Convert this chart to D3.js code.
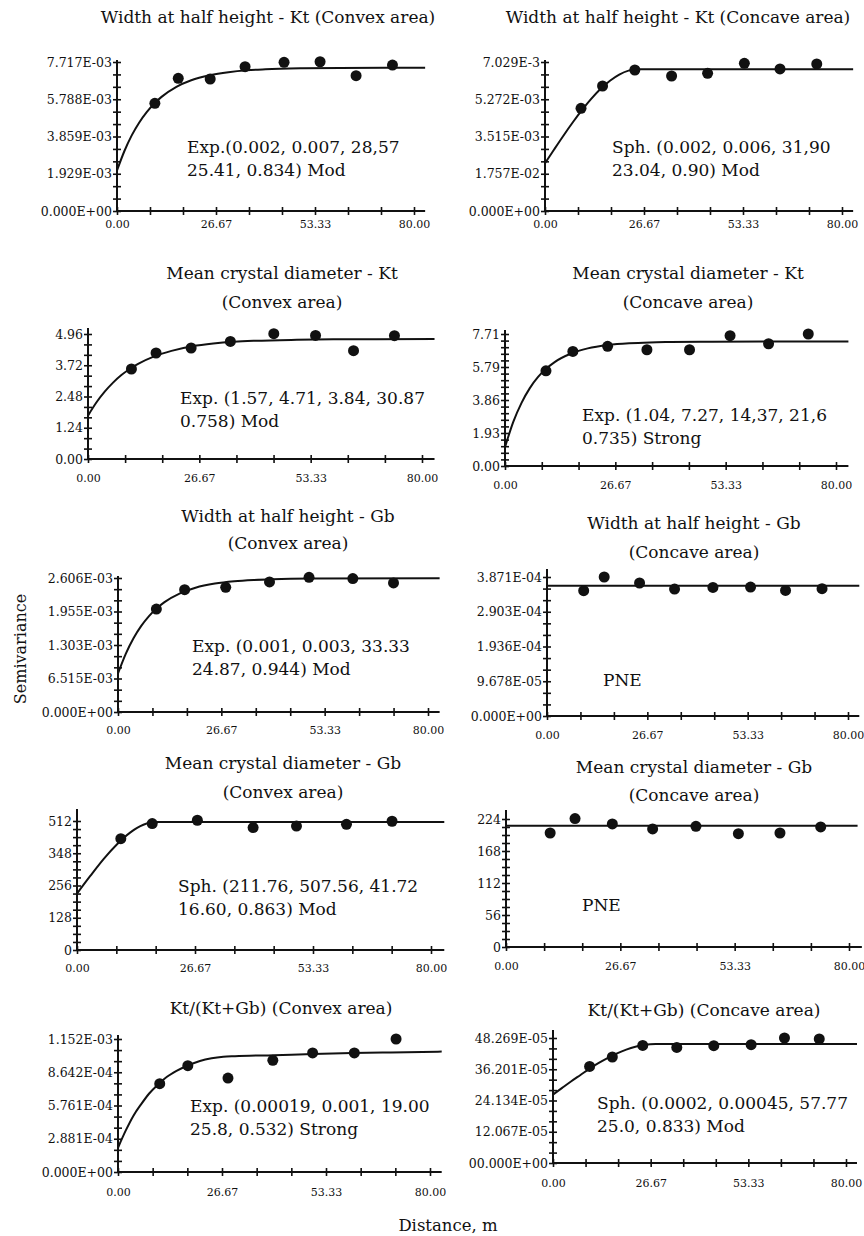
<!DOCTYPE html>
<html>
<head>
<meta charset="utf-8">
<script src="https://cdn.jsdelivr.net/npm/d3@7"></script>
<style>
  body { margin: 0; background: #fff; }
</style>
</head>
<body>
<div id="chart"></div>
<script>
// shared x axis labels (lag distance, m)
const xTickValues = [0, 26.67, 53.33, 80];
const xTickLabels = ["0.00", "26.67", "53.33", "80.00"];

// 1. Width at half height - Kt (Convex)
const p1Lag = [10.2, 16.5, 25.1, 34.5, 45.0, 54.7, 64.4, 74.2];
const p1Gamma = [0.005578, 0.006873, 0.006837, 0.007474, 0.00770, 0.00773, 0.00701, 0.00756];
const p1FitLag = [0, 2, 4, 6, 8, 10, 12, 16, 20, 25, 30, 35, 40, 50, 60, 83];
const p1Fit = [0.00210, 0.003108, 0.00393, 0.004587, 0.00512, 0.005558, 0.00591, 0.00643, 0.00677, 0.00703, 0.00719, 0.00729, 0.00734, 0.00739, 0.00741, 0.00742];
const p1YLabels = ["0.000E+00", "1.929E-03", "3.859E-03", "5.788E-03", "7.717E-03"];

// 2. Width at half height - Kt (Concave)
const p2Lag = [9.7, 15.5, 24.2, 34.1, 43.8, 53.7, 63.3, 73.2];
const p2Gamma = [0.004845, 0.005897, 0.006652, 0.006369, 0.006496, 0.006968, 0.00670, 0.006935];
const p2FitLag = [0, 2.5, 5, 7.5, 10, 12.5, 15, 17.5, 20, 22.5, 25, 83];
const p2Fit = [0.00225, 0.002913, 0.003563, 0.004186, 0.004769, 0.005299, 0.005763, 0.006146, 0.006437, 0.006621, 0.006685, 0.006685];
const p2YLabels = ["0.000E+00", "1.757E-02", "3.515E-03", "5.272E-03", "7.029E-3"];

// 3. Mean crystal diameter - Kt (Convex)
const p3Lag = [10.4, 16.3, 24.7, 34.1, 44.5, 54.5, 63.6, 73.4];
const p3Gamma = [3.571, 4.206, 4.404, 4.666, 4.972, 4.905, 4.297, 4.893];
const p3FitLag = [0, 2, 4, 6, 8, 10, 12, 16, 20, 25, 30, 35, 40, 50, 60, 83];
const p3Fit = [1.72, 2.24, 2.67, 3.03, 3.33, 3.57, 3.77, 4.08, 4.29, 4.47, 4.58, 4.65, 4.69, 4.73, 4.75, 4.76];
const p3YLabels = ["0.00", "1.24", "2.48", "3.72", "4.96"];

// 4. Mean crystal diameter - Kt (Concave)
const p4Lag = [9.9, 16.4, 24.8, 34.3, 44.6, 54.4, 63.7, 73.3];
const p4Gamma = [5.56, 6.69, 6.99, 6.79, 6.79, 7.61, 7.14, 7.71];
const p4FitLag = [0, 2, 4, 6, 8, 10, 12, 16, 20, 25, 30, 35, 40, 50, 83];
const p4Fit = [1.10, 2.58, 3.69, 4.55, 5.20, 5.69, 6.07, 6.57, 6.87, 7.07, 7.17, 7.22, 7.24, 7.26, 7.27];
const p4YLabels = ["0.00", "1.93", "3.86", "5.79", "7.71"];

// 5. Width at half height - Gb (Convex)
const p5Lag = [9.9, 17.2, 27.8, 39.1, 49.3, 60.6, 71.1];
const p5Gamma = [0.002002, 0.002379, 0.002424, 0.002530, 0.002620, 0.002594, 0.002510];
const p5FitLag = [0, 2, 4, 6, 8, 10, 12, 16, 20, 25, 30, 35, 40, 50, 83];
const p5Fit = [0.000750, 0.001131, 0.001434, 0.001674, 0.001865, 0.002017, 0.002137, 0.002308, 0.002416, 0.002497, 0.002542, 0.002567, 0.002582, 0.002594, 0.002600];
const p5YLabels = ["0.000E+00", "6.515E-03", "1.303E-03", "1.955E-03", "2.606E-03"];

// 6. Width at half height - Gb (Concave)
const p6Lag = [9.75, 15.2, 24.6, 33.9, 44.1, 54.1, 63.4, 73.1];
const p6Gamma = [0.0003489, 0.0003871, 0.0003704, 0.0003536, 0.0003581, 0.0003592, 0.0003497, 0.0003545];
const p6FitLag = [0, 83];
const p6Fit = [0.0003628, 0.0003628];
const p6YLabels = ["0.000E+00", "9.678E-05", "1.936E-04", "2.903E-04", "3.871E-04"];

// 7. Mean crystal diameter - Gb (Convex)
const p7Lag = [9.9, 17.0, 27.2, 39.8, 49.6, 60.9, 71.2];
const p7Gamma = [442, 502, 515, 486, 492, 499, 511];
const p7FitLag = [0, 3, 6, 9, 12, 15, 16.5, 18, 83];
const p7Fit = [224, 294, 361, 419, 466, 497, 505, 508, 508];
const p7YLabels = ["0", "128", "256", "348", "512"];

// 8. Mean crystal diameter - Gb (Concave)
const p8Lag = [10.3, 16.1, 24.8, 34.2, 44.3, 54.2, 63.9, 73.4];
const p8Gamma = [199.5, 224.7, 215.4, 206.6, 211.2, 198.3, 199.5, 210.1];
const p8FitLag = [0, 82];
const p8Fit = [212.4, 212.4];
const p8YLabels = ["0", "56", "112", "168", "224"];

// 9. Kt/(Kt+Gb) (Convex)
const p9Lag = [10.7, 17.9, 28.2, 39.7, 49.9, 60.6, 71.3];
const p9Gamma = [0.000765, 0.000921, 0.000814, 0.000967, 0.001031, 0.001031, 0.001152];
const p9FitLag = [0, 2, 4, 6, 8, 10, 12, 15, 18, 21, 24, 27, 30, 40, 50, 60, 70, 83];
const p9Fit = [0.00021, 0.00036, 0.00049, 0.00059, 0.00068, 0.00075, 0.00081, 0.000875, 0.000925, 0.000962, 0.000985, 0.000998, 0.001003, 0.001012, 0.001022, 0.00103, 0.001036, 0.001043];
const p9YLabels = ["0.000E+00", "2.881E-04", "5.761E-04", "8.642E-04", "1.152E-03"];

// 10. Kt/(Kt+Gb) (Concave)
const p10Lag = [10.0, 16.2, 24.5, 33.8, 43.9, 54.1, 63.2, 72.7];
const p10Gamma = [0.0003730, 0.0004093, 0.0004541, 0.0004464, 0.0004530, 0.0004568, 0.0004827, 0.0004788];
const p10FitLag = [0, 2.5, 5, 7.5, 10, 12.5, 15, 17.5, 20, 22.5, 25, 28, 83];
const p10Fit = [0.000264, 0.0002901, 0.0003158, 0.000340, 0.0003643, 0.0003863, 0.0004061, 0.0004234, 0.0004378, 0.0004489, 0.0004562, 0.0004595, 0.0004595];
const p10YLabels = ["00.000E+00", "12.067E-05", "24.134E-05", "36.201E-05", "48.269E-05"];

const panels = [
  {lag: p1Lag, gamma: p1Gamma, fitLag: p1FitLag, fit: p1Fit, yLabels: p1YLabels, top: 0.007717,
   title: ["Width at half height - Kt (Convex area)"], note: ["Exp.(0.002, 0.007, 28,57", "25.41, 0.834) Mod"]},
  {lag: p2Lag, gamma: p2Gamma, fitLag: p2FitLag, fit: p2Fit, yLabels: p2YLabels, top: 0.007029,
   title: ["Width at half height - Kt (Concave area)"], note: ["Sph. (0.002, 0.006, 31,90", "23.04, 0.90) Mod"]},
  {lag: p3Lag, gamma: p3Gamma, fitLag: p3FitLag, fit: p3Fit, yLabels: p3YLabels, top: 4.96,
   title: ["Mean crystal diameter - Kt", "(Convex area)"], note: ["Exp. (1.57, 4.71, 3.84, 30.87", "0.758) Mod"]},
  {lag: p4Lag, gamma: p4Gamma, fitLag: p4FitLag, fit: p4Fit, yLabels: p4YLabels, top: 7.71,
   title: ["Mean crystal diameter - Kt", "(Concave area)"], note: ["Exp. (1.04, 7.27, 14,37, 21,6", "0.735) Strong"]},
  {lag: p5Lag, gamma: p5Gamma, fitLag: p5FitLag, fit: p5Fit, yLabels: p5YLabels, top: 0.002606,
   title: ["Width at half height - Gb", "(Convex area)"], note: ["Exp. (0.001, 0.003, 33.33", "24.87, 0.944) Mod"]},
  {lag: p6Lag, gamma: p6Gamma, fitLag: p6FitLag, fit: p6Fit, yLabels: p6YLabels, top: 0.0003871,
   title: ["Width at half height - Gb", "(Concave area)"], note: ["PNE"]},
  {lag: p7Lag, gamma: p7Gamma, fitLag: p7FitLag, fit: p7Fit, yLabels: p7YLabels, top: 512,
   title: ["Mean crystal diameter - Gb", "(Convex area)"], note: ["Sph. (211.76, 507.56, 41.72", "16.60, 0.863) Mod"]},
  {lag: p8Lag, gamma: p8Gamma, fitLag: p8FitLag, fit: p8Fit, yLabels: p8YLabels, top: 224,
   title: ["Mean crystal diameter - Gb", "(Concave area)"], note: ["PNE"]},
  {lag: p9Lag, gamma: p9Gamma, fitLag: p9FitLag, fit: p9Fit, yLabels: p9YLabels, top: 0.001152,
   title: ["Kt/(Kt+Gb) (Convex area)"], note: ["Exp. (0.00019, 0.001, 19.00", "25.8, 0.532) Strong"]},
  {lag: p10Lag, gamma: p10Gamma, fitLag: p10FitLag, fit: p10Fit, yLabels: p10YLabels, top: 0.00048269,
   title: ["Kt/(Kt+Gb) (Concave area)"], note: ["Sph. (0.0002, 0.00045, 57.77", "25.0, 0.833) Mod"]}
];

// pixel layout of each panel: y axis x, x of 80 m, y of zero, y of top tick, extras
const layout = [
  {ax: 117, x80: 414, yb: 211, yt: 62, ext: 2, minor: 2, pad: 9, tx: 268, ty: [17], nx: 187, ny: 147},
  {ax: 545, x80: 842, yb: 211, yt: 62, ext: 2, minor: 2, pad: 9, tx: 678, ty: [17], nx: 612, ny: 147},
  {ax: 88, x80: 422, yb: 459, yt: 334, ext: 6, minor: 2, pad: 15, tx: 282, ty: [273, 302], nx: 180, ny: 398},
  {ax: 505, x80: 836, yb: 466, yt: 334, ext: 4, minor: 4, pad: 15, tx: 688, ty: [273, 302], nx: 582, ny: 415},
  {ax: 118, x80: 428, yb: 712, yt: 578, ext: 2, minor: 2, pad: 14, tx: 288, ty: [516, 543], nx: 192, ny: 646},
  {ax: 547, x80: 848, yb: 716, yt: 577, ext: 8, minor: 2, pad: 15, tx: 694, ty: [523, 552], nx: 603, ny: 680},
  {ax: 77, x80: 431, yb: 950, yt: 821, ext: 12, minor: 3, pad: 14, tx: 283, ty: [763, 792], nx: 178, ny: 886},
  {ax: 506, x80: 849, yb: 947, yt: 819, ext: 9, minor: 3, pad: 15, tx: 694, ty: [767, 795], nx: 582, ny: 905},
  {ax: 118, x80: 430, yb: 1172, yt: 1039, ext: 4, minor: 2, pad: 16, tx: 281, ty: [1008], nx: 190, ny: 1106},
  {ax: 553, x80: 846, yb: 1163, yt: 1038, ext: 8, minor: 2, pad: 16, tx: 704, ty: [1010], nx: 597, ny: 1103}
];

const width = 864, height = 1236;
const ink = '#111';

// pick the first serif face the renderer actually has
function pickSerif() {
  const ctx = document.createElement('canvas').getContext('2d');
  const probe = 'Width at half height - Kt 0.123';
  const measure = f => { ctx.font = '40px ' + f; return ctx.measureText(probe).width; };
  const base = [measure('monospace'), measure('sans-serif')];
  const names = ['DejaVu Serif', 'Liberation Serif', 'Noto Serif', 'Times New Roman', 'Tinos', 'FreeSerif'];
  for (const n of names) {
    const w1 = measure(`"${n}", monospace`), w2 = measure(`"${n}", sans-serif`);
    if (Math.abs(w1 - w2) < 0.5 && Math.abs(w1 - base[0]) > 0.5) return `"${n}", serif`;
  }
  return 'serif';
}
const serif = pickSerif();

const svg = d3.select('#chart').append('svg')
  .attr('width', width)
  .attr('height', height)
  .attr('font-family', serif);

function drawPanel(d, l) {
  const xEnd = 83;
  const x = d3.scaleLinear().domain([0, 80]).range([l.ax, l.x80]);
  const y = d3.scaleLinear().domain([0, d.top]).range([l.yb, l.yt]);
  const g = svg.append('g');

  // tick marks (crossing the axis lines)
  const xMinor = d3.range(10).map(i => i * 80 / 9);
  const nSub = 4 * (l.minor + 1);
  const yMinor = d3.range(nSub + 1).map(i => i * d.top / nSub);
  const yMajor = d3.range(5).map(i => i * d.top / 4);

  const tickStyle = sel => {
    sel.select('.domain').remove();
    sel.selectAll('line').attr('stroke', ink).attr('stroke-width', 1.6);
  };
  g.append('g').attr('transform', `translate(0,${l.yb})`)
    .call(d3.axisBottom(x).tickValues(xMinor).tickSize(4).tickFormat(''))
    .call(tickStyle);
  g.append('g').attr('transform', `translate(0,${l.yb})`)
    .call(d3.axisTop(x).tickValues(xMinor).tickSize(4).tickFormat(''))
    .call(tickStyle);
  g.append('g').attr('transform', `translate(${l.ax},0)`)
    .call(d3.axisLeft(y).tickValues(yMinor).tickSize(4).tickFormat(''))
    .call(tickStyle);
  g.append('g').attr('transform', `translate(${l.ax},0)`)
    .call(d3.axisRight(y).tickValues(yMinor).tickSize(4).tickFormat(''))
    .call(tickStyle);

  // labels
  const xl = g.append('g').attr('transform', `translate(0,${l.yb})`)
    .call(d3.axisBottom(x).tickValues(xTickValues).tickSize(0).tickPadding(l.pad)
      .tickFormat((v, i) => xTickLabels[i]));
  xl.select('.domain').remove();
  xl.attr('font-family', serif).attr('font-size', 11);
  xl.selectAll('text').attr('fill', ink);

  const yl = g.append('g').attr('transform', `translate(${l.ax},0)`)
    .call(d3.axisLeft(y).tickValues(yMajor).tickSize(0).tickPadding(5)
      .tickFormat((v, i) => d.yLabels[i]));
  yl.select('.domain').remove();
  yl.attr('font-family', serif).attr('font-size', 12.5);
  yl.selectAll('text').attr('fill', ink);

  // axis lines
  g.append('line')
    .attr('x1', x(0)).attr('x2', x(xEnd))
    .attr('y1', y(0)).attr('y2', y(0))
    .attr('stroke', ink).attr('stroke-width', 2);
  g.append('line')
    .attr('x1', x(0)).attr('x2', x(0))
    .attr('y1', y(0)).attr('y2', l.yt - l.ext)
    .attr('stroke', ink).attr('stroke-width', 2);

  // fitted model
  const fitPts = d.fitLag.map((h, i) => [h, d.fit[i]]);
  g.append('path')
    .datum(fitPts)
    .attr('fill', 'none')
    .attr('stroke', ink)
    .attr('stroke-width', 2)
    .attr('d', d3.line().x(p => x(p[0])).y(p => y(p[1])).curve(d3.curveMonotoneX));

  // experimental semivariance
  g.selectAll('circle')
    .data(d.lag.map((h, i) => [h, d.gamma[i]]))
    .enter().append('circle')
    .attr('cx', p => x(p[0]))
    .attr('cy', p => y(p[1]))
    .attr('r', 5.5)
    .attr('fill', ink);

  // title
  d.title.forEach((t, i) => {
    g.append('text')
      .attr('x', l.tx).attr('y', l.ty[i]).attr('dy', '0.35em')
      .attr('text-anchor', 'middle').attr('font-size', 17)
      .attr('fill', ink)
      .text(t);
  });

  // model annotation
  d.note.forEach((t, i) => {
    g.append('text')
      .attr('x', l.nx).attr('y', l.ny + i * 23.5).attr('dy', '0.35em')
      .attr('font-size', 17)
      .attr('fill', ink)
      .text(t);
  });
}

panels.forEach((d, i) => drawPanel(d, layout[i]));

// shared axis titles
svg.append('text')
  .attr('transform', 'translate(20,649) rotate(-90)')
  .attr('text-anchor', 'middle').attr('dy', '0.35em')
  .attr('font-size', 16)
  .attr('fill', ink)
  .text('Semivariance');

svg.append('text')
  .attr('x', 448).attr('y', 1225).attr('dy', '0.35em')
  .attr('text-anchor', 'middle')
  .attr('font-size', 16.5)
  .attr('fill', ink)
  .text('Distance, m');
</script>
</body>
</html>
